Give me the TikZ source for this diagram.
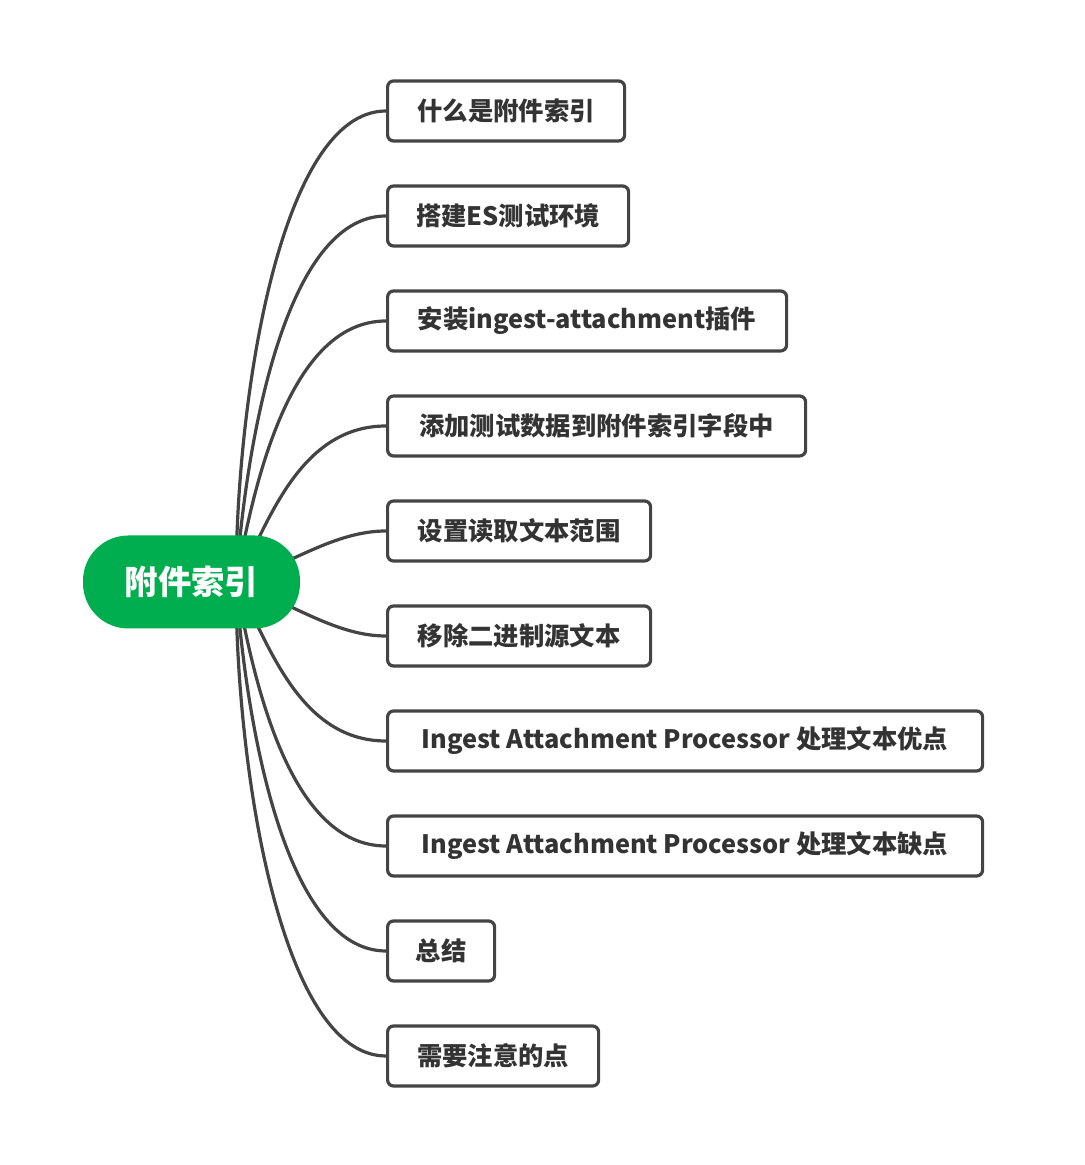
\documentclass[tikz,border=0pt]{standalone}
\usepackage{fontspec}
\newfontfamily\cjk{Noto Sans CJK SC}
\usepackage{tikz}
\definecolor{rootgreen}{RGB}{0,174,80}
\definecolor{linegray}{RGB}{68,68,68}
\definecolor{textgray}{RGB}{51,51,51}

\begin{document}
\begin{tikzpicture}[x=0.75pt,y=0.75pt,
	topic/.style={draw=linegray,line width=2.4pt,rounded corners=4.5pt,anchor=west,
		minimum height=45pt,inner xsep=0pt,text=textgray,font=\cjk\bfseries\fontsize{19pt}{23pt}\selectfont},
	link/.style={draw=linegray,line width=2.4pt}]
			\useasboundingbox(0,0)rectangle(1085,1165);
			\node[topic,minimum width=237*0.75pt](b1)at(386,1054){什么是附件索引};
			\node[topic,minimum width=241*0.75pt](b2)at(386,949){搭建ES测试环境};
			\node[topic,minimum width=399*0.75pt](b3)at(386,844){安装ingest-attachment插件};
			\node[topic,minimum width=418*0.75pt](b4)at(386,739){添加测试数据到附件索引字段中};
			\node[topic,minimum width=263*0.75pt](b5)at(386,634){设置读取文本范围};
			\node[topic,minimum width=263*0.75pt](b6)at(386,529){移除二进制源文本};
			\node[topic,minimum width=595*0.75pt](b7)at(386,424){Ingest Attachment Processor 处理文本优点};
			\node[topic,minimum width=595*0.75pt](b8)at(386,319){Ingest Attachment Processor 处理文本缺点};
			\node[topic,minimum width=107*0.75pt](b9)at(386,214){总结};
			\node[topic,minimum width=211*0.75pt](b10)at(386,109){需要注意的点};
			\coordinate(hub)at(236,582);
			\draw[link](hub)..controls+(90:183)and+(-106,0)..(b1.west);
			\draw[link](hub)..controls+(86:145)and+(-100,0)..(b2.west);
			\draw[link](hub)..controls+(80:105)and+(-95,0)..(b3.west);
			\draw[link](hub)..controls+(60:60)and+(-90,0)..(b4.west);
			\draw[link](hub)..controls+(20:60)and+(-50,0)..(b5.west);
			\draw[link](hub)..controls+(-20:60)and+(-50,0)..(b6.west);
			\draw[link](hub)..controls+(-60:60)and+(-90,0)..(b7.west);
			\draw[link](hub)..controls+(-80:105)and+(-95,0)..(b8.west);
			\draw[link](hub)..controls+(-86:145)and+(-100,0)..(b9.west);
			\draw[link](hub)..controls+(-90:183)and+(-106,0)..(b10.west);
			\node[fill=rootgreen,text=white,rounded corners=34pt,minimum width=217*0.75pt,minimum height=93*0.75pt,
				font=\cjk\bfseries\fontsize{25pt}{30pt}\selectfont](root)at(191.5,583){附件索引};
		\end{tikzpicture}
\end{document}
